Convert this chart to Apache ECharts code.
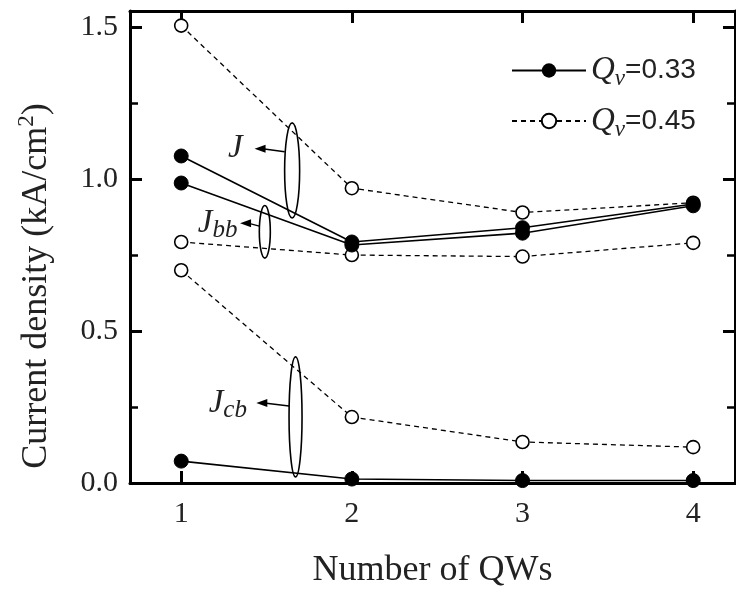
<!DOCTYPE html>
<html>
<head>
<meta charset="utf-8">
<script src="https://cdn.jsdelivr.net/npm/echarts@6/dist/echarts.min.js"></script>
<style>
html,body{margin:0;padding:0;background:#fff;}
#c{width:736px;height:594px;}
</style>
</head>
<body>
<div id="c"></div>
<script>
// Data
var xTicks = [1, 2, 3, 4];
var qws = [1, 2, 3, 4];
var yTicks = [0, 0.5, 1.0, 1.5];
// Qv = 0.33 (filled, solid)
var J_033   = [1.076, 0.793, 0.840, 0.918];
var Jbb_033 = [0.987, 0.783, 0.822, 0.912];
var Jcb_033 = [0.072, 0.013, 0.008, 0.008];
// Qv = 0.45 (open, dashed)
var J_045   = [1.505, 0.970, 0.890, 0.922];
var Jbb_045 = [0.793, 0.750, 0.745, 0.790];
var Jcb_045 = [0.700, 0.217, 0.135, 0.118];

var serif = '"Liberation Serif","DejaVu Serif",serif';
var sans = '"Liberation Sans",Arial,sans-serif';

function pairs(ys){ return qws.map(function(x,i){ return [x, ys[i]]; }); }

var NAME_A = 'A', NAME_B = 'B';

function solid(data){
  return {
    name: NAME_A, type: 'line', data: pairs(data), xAxisIndex: 0, yAxisIndex: 0,
    symbol: 'circle', symbolSize: 14,
    itemStyle: {color: '#000', borderColor: '#000'},
    lineStyle: {color: '#000', width: 1.6, type: 'solid'},
    z: 4, animation: false
  };
}
function dashed(data){
  return {
    name: NAME_B, type: 'line', data: pairs(data), xAxisIndex: 0, yAxisIndex: 0,
    symbol: 'circle', symbolSize: 13,
    itemStyle: {color: '#fff', borderColor: '#000', borderWidth: 1.6},
    lineStyle: {color: '#000', width: 1.3, type: [5, 4]},
    z: 3, animation: false
  };
}

var chart = echarts.init(document.getElementById('c'));
var XMIN = 0.7, XMAX = 4.245, YMIN = 0, YMAX = 1.553;

var tickCommon = {show: true, inside: true, length: 12, lineStyle: {color: '#000', width: 3}};
var minorCommon = {show: true, splitNumber: 2, length: 8, lineStyle: {color: '#000', width: 2.5}};

var option = {
  animation: false,
  backgroundColor: '#fff',
  grid: {left: 130, top: 11, right: 1, bottom: 111, containLabel: false},
  legend: {
    data: [NAME_A, NAME_B],
    orient: 'vertical',
    left: 511, top: 54, padding: 0,
    itemWidth: 74, itemHeight: 18,
    itemGap: 14,
    formatter: function(n){
      return n === NAME_A ? '{q|Q}{v|v}{n|=0.33}' : '{q|Q}{v|v}{n|=0.45}';
    },
    textStyle: {
      color: '#222',
      rich: {
        q: {fontFamily: serif, fontStyle: 'italic', fontSize: 33, lineHeight: 40, color: '#222'},
        v: {fontFamily: serif, fontStyle: 'italic', fontSize: 23, lineHeight: 22, verticalAlign: 'bottom', color: '#222'},
        n: {fontFamily: sans, fontSize: 28, lineHeight: 40, color: '#222'}
      }
    }
  },
  xAxis: [{
    type: 'value', min: XMIN, max: XMAX, position: 'bottom',
    name: 'Number of QWs', nameLocation: 'middle', nameGap: 70,
    nameTextStyle: {fontFamily: serif, fontSize: 36, color: '#222'},
    axisLine: {show: true, onZero: false, lineStyle: {color: '#000', width: 3}},
    axisTick: Object.assign({customValues: xTicks}, tickCommon),
    axisLabel: {customValues: xTicks, margin: 16, fontFamily: serif, fontSize: 30, color: '#222'},
    splitLine: {show: false}
  }, {
    type: 'value', min: XMIN, max: XMAX, position: 'top',
    axisLine: {show: true, onZero: false, lineStyle: {color: '#000', width: 3}},
    axisTick: Object.assign({customValues: xTicks}, tickCommon),
    axisLabel: {show: false},
    splitLine: {show: false}
  }],
  yAxis: [{
    type: 'value', min: YMIN, max: YMAX, interval: 0.5, position: 'left',
    axisLine: {show: true, onZero: false, lineStyle: {color: '#000', width: 3}},
    axisTick: tickCommon,
    minorTick: minorCommon,
    axisLabel: {margin: 12, fontFamily: serif, fontSize: 30, color: '#222', showMaxLabel: false,
      formatter: function(v){ return yTicks.indexOf(v) >= 0 ? v.toFixed(1) : ''; }},
    splitLine: {show: false}
  }, {
    type: 'value', min: YMIN, max: YMAX, interval: 0.5, position: 'right',
    axisLine: {show: true, onZero: false, lineStyle: {color: '#000', width: 3}},
    axisTick: tickCommon,
    minorTick: minorCommon,
    axisLabel: {show: false},
    splitLine: {show: false}
  }],
  series: [
    dashed(J_045), dashed(Jbb_045), dashed(Jcb_045),
    solid(J_033), solid(Jbb_033), solid(Jcb_033)
  ]
};
chart.setOption(option);

// Annotations (positions given in data space, converted to pixels)
function px(x, y){ return chart.convertToPixel({xAxisIndex: 0, yAxisIndex: 0}, [x, y]); }

var labRich = {
  j: {fontFamily: serif, fontStyle: 'italic', fontSize: 33, lineHeight: 40, fill: '#222'},
  s: {fontFamily: serif, fontStyle: 'italic', fontSize: 25, lineHeight: 22, verticalAlign: 'bottom', fill: '#222'}
};

function bracket(xc, yTop, yBot, halfW, labelX, arrowY, arrowTipX, labelFmt){
  var t = px(xc, yTop), b = px(xc, yBot);
  var cx = t[0], cy = (t[1] + b[1]) / 2, ry = (b[1] - t[1]) / 2;
  var a = px(arrowTipX, arrowY);
  var l = px(labelX, arrowY);
  var els = [];
  els.push({type: 'ellipse', shape: {cx: cx, cy: cy, rx: halfW, ry: ry},
    style: {fill: 'none', stroke: '#000', lineWidth: 1.6}, z: 10});
  els.push({type: 'polyline', shape: {points: [[cx - halfW, a[1] + 3], [a[0] + 8, a[1]]]},
    style: {stroke: '#000', lineWidth: 1.5, fill: null}, z: 10});
  els.push({type: 'polygon', shape: {points: [[a[0], a[1]], [a[0] + 11, a[1] - 4], [a[0] + 11, a[1] + 4]]},
    style: {fill: '#000'}, z: 10});
  els.push({type: 'text', x: l[0], y: l[1], z: 10,
    style: {text: labelFmt, align: 'right', verticalAlign: 'middle', rich: labRich, fill: '#222'}});
  return els;
}

var g = [];
g = g.concat(bracket(1.65, 1.185, 0.872, 7.5, 1.36, 1.10, 1.43, '{j|J}'));
g = g.concat(bracket(1.49, 0.913, 0.74, 5.5, 1.33, 0.855, 1.345, '{j|J}{s|bb}'));
g = g.concat(bracket(1.67, 0.415, 0.02, 6.5, 1.385, 0.263, 1.44, '{j|J}{s|cb}'));

// Y axis name
g.push({
  type: 'text', x: 37, y: 286, rotation: Math.PI / 2, z: 10,
  style: {
    text: '{m|Current density (kA/cm}{p|2}{m|)}',
    align: 'center', verticalAlign: 'middle',
    rich: {
      m: {fontFamily: serif, fontSize: 36, lineHeight: 44, fill: '#222'},
      p: {fontFamily: serif, fontSize: 23, lineHeight: 22, verticalAlign: 'top', fill: '#222'}
    }
  }
});

chart.setOption({graphic: {elements: g}});
</script>
</body>
</html>
